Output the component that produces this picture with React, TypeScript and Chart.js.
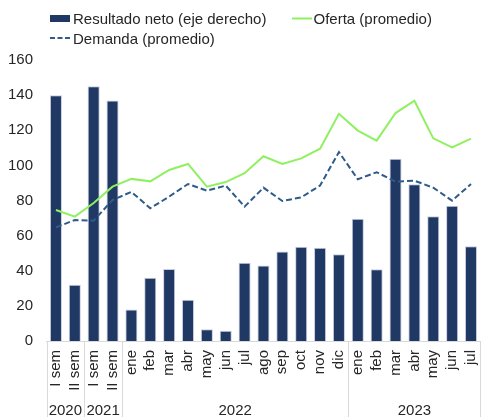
import React, { useEffect, useRef } from "react";
import { Chart, registerables } from "chart.js";

Chart.register(...registerables);

// ---- Data ----
const categories = [
  "I sem", "II sem", "I sem", "II sem",
  "ene", "feb", "mar", "abr", "may", "jun", "jul", "ago", "sep", "oct", "nov", "dic",
  "ene", "feb", "mar", "abr", "may", "jun", "jul",
];
const yearLabels = ["2020", "2021", "2022", "2023"];
const yearCounts = [2, 2, 12, 7];

const resultadoNeto = [
  140, 32, 145, 137,
  18, 36, 41, 23.5, 6.7, 5.9, 44.6, 43, 51, 53.7, 53.1, 49.4,
  69.6, 40.8, 103.8, 89.2, 71, 77, 53.9,
];
const oferta = [
  74.6, 70.8, 78.6, 87.9,
  92.3, 90.9, 97.4, 100.8, 87.9, 90.5, 95.5, 105.2, 100.8, 104, 109.5, 129.4,
  119.8, 114.1, 129.8, 136.8, 115.4, 110.3, 115.2,
];
const demanda = [
  64.7, 68.9, 68.5, 80.3,
  84.9, 75.6, 82.2, 89.4, 85.6, 88.5, 76.5, 87.3, 79.7, 81.8, 88.5, 107.6,
  92.1, 96.1, 90.7, 91.3, 87.3, 79.9, 89.4,
];
const yTicks = [0, 20, 40, 60, 80, 100, 120, 140, 160];

const seriesNames = ["Resultado neto (eje derecho)", "Oferta (promedio)", "Demanda (promedio)"];

// ---- Styles ----
const FONT = '"Liberation Sans", Arial, sans-serif';
const TEXT = "#262626";
const NAVY = "#1f3864";
const GREEN = "#8ff060";
const BLUE = "#2f5b8a";
const SEP = "#d9d9d9";

const legendPlugin = {
  id: "customLegend",
  afterDraw(chart: any) {
    const ctx = chart.ctx;
    ctx.save();
    ctx.font = `15px ${FONT}`;
    ctx.textBaseline = "alphabetic";
    ctx.textAlign = "left";
    // Bar item
    ctx.fillStyle = NAVY;
    ctx.fillRect(50, 15, 20, 7);
    ctx.fillStyle = TEXT;
    ctx.fillText(seriesNames[0], 73, 24);
    // Oferta item
    ctx.strokeStyle = GREEN;
    ctx.lineWidth = 2;
    ctx.beginPath();
    ctx.moveTo(292, 18.5);
    ctx.lineTo(312, 18.5);
    ctx.stroke();
    ctx.fillText(seriesNames[1], 313.5, 24);
    // Demanda item
    ctx.strokeStyle = BLUE;
    ctx.setLineDash([5, 2.5]);
    ctx.beginPath();
    ctx.moveTo(50, 38);
    ctx.lineTo(70, 38);
    ctx.stroke();
    ctx.setLineDash([]);
    ctx.fillText(seriesNames[2], 73, 43.5);
    ctx.restore();
  },
};

const groupPlugin = {
  id: "yearGroups",
  afterDraw(chart: any) {
    const ctx = chart.ctx;
    const x = chart.scales.x;
    const bottom = chart.chartArea.bottom;
    const h = chart.height;
    const step = x.getPixelForValue(1) - x.getPixelForValue(0);
    ctx.save();
    ctx.strokeStyle = SEP;
    ctx.lineWidth = 1;
    ctx.font = `15px ${FONT}`;
    ctx.fillStyle = TEXT;
    ctx.textAlign = "center";
    ctx.textBaseline = "alphabetic";
    let start = 0;
    const drawSep = (px: number) => {
      ctx.beginPath();
      ctx.moveTo(Math.round(px) + 0.5, bottom);
      ctx.lineTo(Math.round(px) + 0.5, h);
      ctx.stroke();
    };
    for (let g = 0; g < yearLabels.length; g++) {
      const end = start + yearCounts[g] - 1;
      const left = x.getPixelForValue(start) - step / 2;
      const right = x.getPixelForValue(end) + step / 2;
      drawSep(left);
      if (g === yearLabels.length - 1) drawSep(right);
      ctx.fillText(yearLabels[g], (left + right) / 2, 415);
      start = end + 1;
    }
    ctx.restore();
  },
};

export default function App() {
  const ref = useRef<HTMLCanvasElement | null>(null);

  useEffect(() => {
    if (!ref.current) return;
    Chart.defaults.font.family = FONT;
    Chart.defaults.font.size = 15;
    Chart.defaults.color = TEXT;
    const chart = new Chart(ref.current, {
      type: "bar",
      data: {
        labels: categories,
        datasets: [
          {
            type: "bar",
            label: seriesNames[0],
            data: resultadoNeto,
            backgroundColor: NAVY,
            borderColor: "#c9cde0",
            borderWidth: 1,
            barPercentage: 0.64,
            categoryPercentage: 1,
            order: 3,
          },
          {
            type: "line",
            label: seriesNames[1],
            data: oferta,
            borderColor: GREEN,
            borderWidth: 2,
            pointRadius: 0,
            tension: 0,
            fill: false,
            order: 1,
          },
          {
            type: "line",
            label: seriesNames[2],
            data: demanda,
            borderColor: BLUE,
            borderWidth: 2,
            borderDash: [6, 3],
            pointRadius: 0,
            tension: 0,
            fill: false,
            order: 2,
          },
        ],
      } as any,
      options: {
        responsive: false,
        animation: false,
        devicePixelRatio: 1,
        layout: { padding: { top: 60, left: 0, right: 0, bottom: 0 } },
        plugins: {
          legend: { display: false },
          tooltip: { enabled: false },
        },
        scales: {
          x: {
            grid: { display: false, drawTicks: false },
            border: { display: true, color: SEP, width: 1 },
            ticks: {
              autoSkip: false,
              maxRotation: 90,
              minRotation: 90,
              padding: 9,
              color: TEXT,
              font: { size: 15, family: FONT },
            },
            afterFit: (scale: any) => {
              scale.height = 76;
            },
          },
          y: {
            min: yTicks[0],
            max: yTicks[yTicks.length - 1],
            grid: { display: false, drawTicks: false },
            border: { display: false },
            afterBuildTicks: (scale: any) => {
              scale.ticks = yTicks.map((v) => ({ value: v }));
            },
            ticks: {
              padding: 13.5,
              color: TEXT,
              font: { size: 15, family: FONT },
            },
            afterFit: (scale: any) => {
              scale.width = 46.5;
            },
          },
        },
      },
      plugins: [legendPlugin, groupPlugin],
    });
    return () => chart.destroy();
  }, []);

  return (
    <div
      style={{
        position: "fixed",
        left: 0,
        top: 0,
        width: 495,
        height: 417,
        overflow: "hidden",
        background: "#ffffff",
      }}
    >
      <canvas ref={ref} width={498} height={417} style={{ display: "block", width: 498, height: 417 }} />
    </div>
  );
}
